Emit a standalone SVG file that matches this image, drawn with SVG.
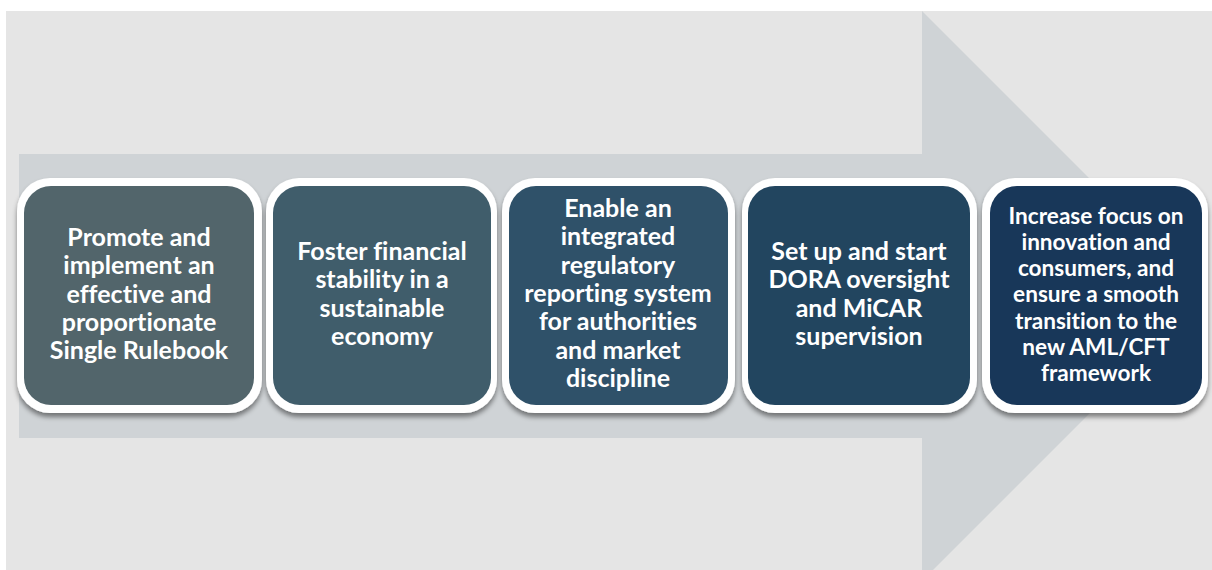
<svg xmlns="http://www.w3.org/2000/svg" width="1212" height="570" viewBox="0 0 1212 570">
  <style>
    .outer { fill: #ffffff; filter: url(#sh); }
    .t { font-family: Lato, "Liberation Sans", sans-serif; font-weight: bold; font-size: 25px; fill: #ffffff; text-anchor: middle; font-variant-ligatures: none; }
    .t5 { font-size: 22.6px; }
  </style>
  <defs>
    <filter id="sh" x="-10%" y="-10%" width="120%" height="125%">
      <feDropShadow dx="0" dy="4" stdDeviation="2.5" flood-color="#000000" flood-opacity="0.45"/>
    </filter>
  </defs>
  <rect x="6" y="11" width="1206" height="559" fill="#E5E5E5"/>
  <polygon points="19,154 922,154 922,11 1207,296 922,581 922,438 19,438" fill="#CFD3D6"/>
  <g id="node1">
    <rect class="outer" x="17" y="178" width="245" height="235" rx="33"/>
    <rect x="24" y="186" width="230" height="219" rx="27" fill="#52656B"/>
    <text class="t" x="139" y="246">Promote and</text>
    <text class="t" x="139" y="274">implement an</text>
    <text class="t" x="139" y="303">effective and</text>
    <text class="t" x="139" y="331">proportionate</text>
    <text class="t" x="139" y="359">Single Rulebook</text>
  </g>
  <g id="node2">
    <rect class="outer" x="266" y="178" width="231" height="235" rx="33"/>
    <rect x="273" y="186" width="218" height="219" rx="27" fill="#405D6B"/>
    <text class="t" x="382" y="260">Foster financial</text>
    <text class="t" x="382" y="288">stability in a</text>
    <text class="t" x="382" y="317">sustainable</text>
    <text class="t" x="382" y="345">economy</text>
  </g>
  <g id="node3">
    <rect class="outer" x="502" y="178" width="233" height="235" rx="33"/>
    <rect x="509" y="186" width="219" height="219" rx="27" fill="#2F5169"/>
    <text class="t" x="618" y="217">Enable an</text>
    <text class="t" x="618" y="245">integrated</text>
    <text class="t" x="618" y="274">regulatory</text>
    <text class="t" x="618" y="302">reporting system</text>
    <text class="t" x="618" y="330">for authorities</text>
    <text class="t" x="618" y="359">and market</text>
    <text class="t" x="618" y="387">discipline</text>
  </g>
  <g id="node4">
    <rect class="outer" x="742" y="178" width="235" height="235" rx="33"/>
    <rect x="748" y="186" width="222" height="219" rx="27" fill="#22455F"/>
    <text class="t" x="859" y="260">Set up and start</text>
    <text class="t" x="859" y="288">DORA oversight</text>
    <text class="t" x="859" y="317">and MiCAR</text>
    <text class="t" x="859" y="345">supervision</text>
  </g>
  <g id="node5">
    <rect class="outer" x="982" y="178" width="226" height="235" rx="33"/>
    <rect x="990" y="186" width="212" height="219" rx="27" fill="#183759"/>
    <text class="t t5" x="1096" y="224">Increase focus on</text>
    <text class="t t5" x="1096" y="250">innovation and</text>
    <text class="t t5" x="1096" y="276">consumers, and</text>
    <text class="t t5" x="1096" y="302">ensure a smooth</text>
    <text class="t t5" x="1096" y="329">transition to the</text>
    <text class="t t5" x="1096" y="355">new AML/CFT</text>
    <text class="t t5" x="1096" y="381">framework</text>
  </g>
  <g id="connectors"></g>
</svg>
